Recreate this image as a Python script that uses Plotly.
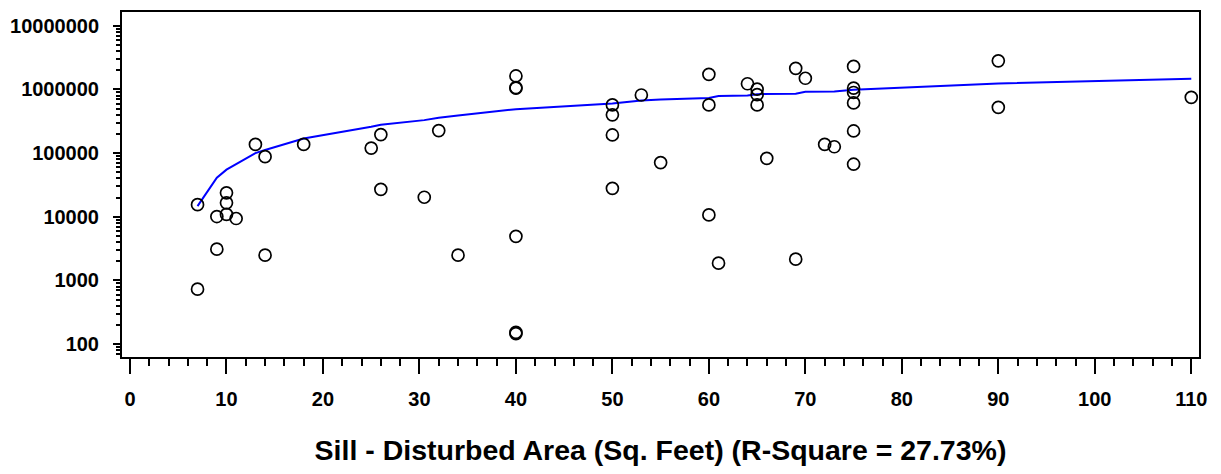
import plotly.graph_objects as go

# observed data: disturbed area vs. value (log scale)
area = [7, 7, 9, 9, 10, 10, 10, 11, 13, 14, 14, 18, 25, 26, 26, 30.5, 32, 34,
        40, 40, 40, 40, 40, 40, 50, 50, 50, 50, 53, 55, 60, 60, 60, 61,
        64, 65, 65, 65, 66, 69, 70, 69, 72, 73, 75, 75, 75, 75, 75, 75,
        90, 90, 110]
value = [15500, 730, 10100, 3100, 23800, 16600, 10900, 9400, 137000, 88000, 2500,
         137000, 120000, 196000, 27000, 20300, 226000, 2500,
         1630000, 1070000, 1050000, 4930, 153, 146,
         573000, 400000, 193000, 28000, 819000, 71000,
         1730000, 573000, 10700, 1870,
         1230000, 1010000, 828000, 573000, 83000, 2150000, 1500000, 2160,
         137000, 126000, 2300000, 1050000, 897000, 615000, 223000, 67000,
         2820000, 525000, 752000]

# fitted curve (blue line)
fit_x = [7, 9, 10, 11, 13, 14, 18, 25, 26, 30.5, 32, 34, 40, 50, 53, 55,
         60, 61, 64, 65, 66, 69, 70, 72, 73, 75, 90, 110]
fit_y = [14700, 41000, 55000, 67000, 100000, 112000, 170000, 260000, 280000,
         330000, 360000, 390000, 490000, 600000, 670000, 695000,
         735000, 790000, 805000, 845000, 848000, 857000, 920000, 925000,
         931000, 990000, 1240000, 1480000]

y_tickvals = [100, 1000, 10000, 100000, 1000000, 10000000]
y_ticktext = ["100", "1000", "10000", "100000", "1000000", "10000000"]
x_tickvals = [0, 10, 20, 30, 40, 50, 60, 70, 80, 90, 100, 110]

X_TITLE = "Sill - Disturbed Area (Sq. Feet) (R-Square = 27.73%)"
FONT = "Liberation Sans, Arial, sans-serif"


def main():
    fig = go.Figure()

    fig.add_trace(go.Scatter(x=fit_x, y=fit_y, mode="lines",
                             line=dict(color="#0000ff", width=2)))
    fig.add_trace(go.Scatter(x=area, y=value, mode="markers",
                             marker=dict(symbol="circle-open", size=12, color="black",
                                         line=dict(width=1.7, color="black"))))

    # page body has an 8px margin, so the figure is a bit smaller than the window
    fig.update_layout(
        width=1205, height=458,
        margin=dict(l=112, r=14, t=2, b=107),
        paper_bgcolor="white", plot_bgcolor="white",
        showlegend=False,
        font=dict(family=FONT, color="black"),
    )

    fig.update_xaxes(
        range=[-0.83, 110.8], tickvals=x_tickvals,
        showgrid=False, zeroline=False,
        showline=True, linecolor="black", linewidth=2, mirror=True,
        ticks="outside", ticklen=15, tickwidth=2, tickcolor="black",
        minor=dict(dtick=2, ticks="outside", ticklen=7, tickwidth=1.5, tickcolor="black"),
        tickfont=dict(family=FONT, size=20, weight="bold"),
        ticklabelstandoff=8,
        title=dict(text=X_TITLE, font=dict(family=FONT, size=28.5, weight="bold"), standoff=34),
    )

    fig.update_yaxes(
        type="log", range=[1.798, 7.217],
        tickvals=y_tickvals, ticktext=y_ticktext,
        showgrid=False, zeroline=False,
        showline=True, linecolor="black", linewidth=2, mirror=True,
        ticks="outside", ticklen=7, tickwidth=2, tickcolor="black",
        minor=dict(dtick="D1", ticks="outside", ticklen=4, tickwidth=1.5, tickcolor="black"),
        tickfont=dict(family=FONT, size=20, weight="bold"),
        ticklabelstandoff=10,
    )

    fig.write_html("out.html")


if __name__ == "__main__":
    main()
